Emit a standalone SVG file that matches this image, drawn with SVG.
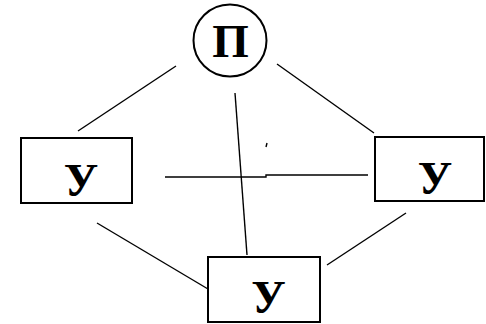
<svg xmlns="http://www.w3.org/2000/svg" width="486" height="324" viewBox="0 0 486 324">
<style>
.box{fill:#fff;stroke:#000;stroke-width:2}
.lbl{font-family:"Liberation Serif","Times New Roman",serif;font-weight:bold;font-size:47px;fill:#000;text-anchor:middle}
.ln{stroke:#000;stroke-width:1.4;fill:none}
</style>
<rect width="486" height="324" fill="#fff"/>
<g id="connectors">
<line class="ln" x1="176" y1="66" x2="78" y2="131"/>
<line class="ln" x1="277" y1="64" x2="374" y2="133"/>
<line class="ln" x1="235" y1="93" x2="247" y2="255"/>
<polyline class="ln" points="165,177 266,177 266,175 368,175"/>
<line class="ln" x1="97" y1="223" x2="208" y2="289"/>
<line class="ln" x1="406" y1="213" x2="327" y2="265"/>
<line class="ln" x1="267" y1="143" x2="266" y2="147"/>
</g>
<g id="nodeP">
<ellipse class="box" cx="230" cy="40.5" rx="36.5" ry="36" stroke-width="1.5"/>
<text class="lbl" x="230.5" y="57">П</text>
</g>
<g id="nodeL">
<rect class="box" x="21" y="138" width="111" height="65"/>
<text class="lbl" x="81" y="196">У</text>
</g>
<g id="nodeR">
<rect class="box" x="375" y="137" width="109" height="64"/>
<text class="lbl" x="435" y="194">У</text>
</g>
<g id="nodeB">
<rect class="box" x="208" y="257" width="112" height="65"/>
<text class="lbl" x="268.5" y="313">У</text>
</g>
</svg>
